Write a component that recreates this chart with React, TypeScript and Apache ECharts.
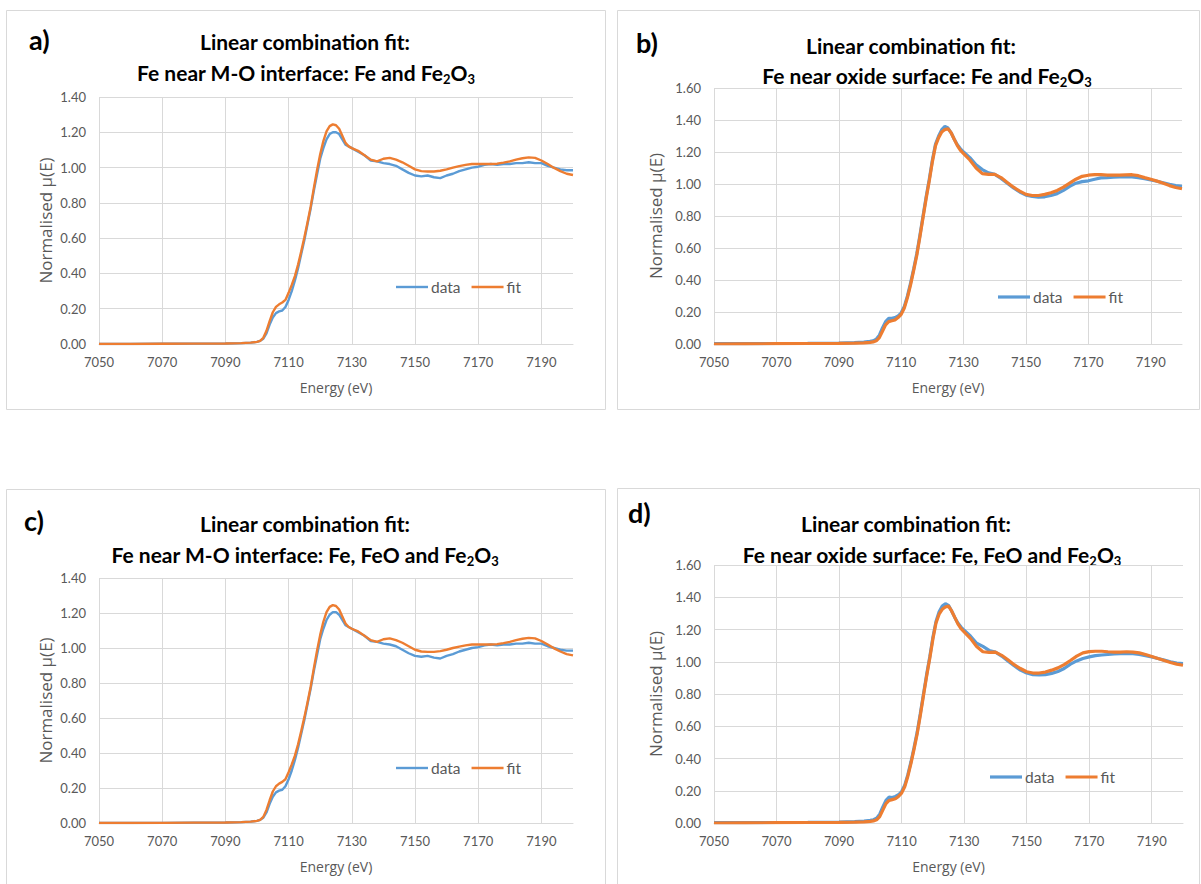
import React, { useEffect, useRef } from "react";
import * as echarts from "echarts";

const FONT = "Lato, 'Open Sans', sans-serif";

const energy = [
  7050, 7060, 7070, 7080, 7090, 7095, 7098,
  7100, 7101, 7102, 7103, 7104, 7105, 7106, 7107, 7108, 7109, 7110, 7111, 7112, 7113, 7114, 7115, 7116, 7117, 7118, 7119, 7120, 7121, 7122, 7123, 7124, 7125, 7126, 7127, 7128, 7129, 7130,
  7132, 7134, 7136, 7138, 7140, 7142, 7144, 7146, 7148, 7150, 7152, 7154, 7156, 7158, 7160, 7162, 7164, 7166, 7168, 7170, 7172, 7174, 7176, 7178, 7180, 7182, 7184, 7186, 7188, 7190, 7192, 7194, 7196, 7198, 7200,
];

const xTicks = { min: 7050, max: 7200, step: 20 };

const dataA = [
  0.000, 0.000, 0.001, 0.002, 0.003, 0.005, 0.008,
  0.012, 0.018, 0.030, 0.060, 0.110, 0.150, 0.175, 0.185, 0.190, 0.210, 0.250, 0.300, 0.360, 0.430, 0.510, 0.590, 0.680, 0.770, 0.870, 0.960, 1.050, 1.110, 1.160, 1.190, 1.200, 1.200, 1.190, 1.160, 1.130, 1.120, 1.110,
  1.090, 1.070, 1.040, 1.035, 1.025, 1.020, 1.010, 0.990, 0.970, 0.955, 0.950, 0.955, 0.945, 0.940, 0.955, 0.965, 0.980, 0.990, 1.000, 1.005, 1.015, 1.020, 1.015, 1.020, 1.020, 1.025, 1.025, 1.030, 1.025, 1.025, 1.010, 1.000, 0.990, 0.985, 0.985,
];
const fitA = [
  0.000, 0.000, 0.001, 0.002, 0.003, 0.005, 0.008,
  0.012, 0.018, 0.035, 0.075, 0.130, 0.180, 0.210, 0.225, 0.235, 0.250, 0.290, 0.335, 0.385, 0.450, 0.525, 0.605, 0.690, 0.780, 0.885, 0.985, 1.075, 1.150, 1.205, 1.235, 1.245, 1.240, 1.220, 1.180, 1.140, 1.120, 1.110,
  1.095, 1.070, 1.045, 1.035, 1.050, 1.055, 1.045, 1.030, 1.010, 0.990, 0.980, 0.978, 0.978, 0.982, 0.990, 1.000, 1.008, 1.015, 1.020, 1.020, 1.020, 1.020, 1.022, 1.028, 1.035, 1.045, 1.053, 1.058, 1.055, 1.040, 1.020, 0.998, 0.980, 0.965, 0.958,
];

const dataB = [
  0.002, 0.002, 0.003, 0.004, 0.006, 0.008, 0.012,
  0.016, 0.020, 0.030, 0.055, 0.100, 0.140, 0.160, 0.160, 0.165, 0.175, 0.195, 0.235, 0.300, 0.380, 0.470, 0.565, 0.680, 0.800, 0.920, 1.030, 1.150, 1.250, 1.300, 1.340, 1.360, 1.350, 1.320, 1.280, 1.245, 1.220, 1.200,
  1.165, 1.120, 1.090, 1.070, 1.060, 1.035, 1.005, 0.975, 0.950, 0.930, 0.922, 0.918, 0.920, 0.928, 0.940, 0.960, 0.985, 1.005, 1.015, 1.020, 1.030, 1.038, 1.040, 1.043, 1.045, 1.045, 1.045, 1.040, 1.033, 1.025, 1.017, 1.008, 0.998, 0.990, 0.985,
];
const fitB = [
  0.000, 0.001, 0.002, 0.003, 0.004, 0.005, 0.007,
  0.010, 0.013, 0.020, 0.040, 0.080, 0.120, 0.140, 0.145, 0.150, 0.165, 0.185, 0.225, 0.290, 0.370, 0.460, 0.555, 0.670, 0.790, 0.910, 1.020, 1.140, 1.240, 1.290, 1.325, 1.340, 1.345, 1.320, 1.280, 1.240, 1.210, 1.190,
  1.150, 1.100, 1.065, 1.060, 1.060, 1.040, 1.010, 0.980, 0.955, 0.935, 0.928, 0.928, 0.935, 0.945, 0.960, 0.980, 1.005, 1.030, 1.048, 1.055, 1.058, 1.058, 1.055, 1.055, 1.055, 1.057, 1.058, 1.052, 1.040, 1.030, 1.018, 1.005, 0.990, 0.978, 0.970,
];

const dataC = [
  0.000, 0.000, 0.001, 0.002, 0.003, 0.005, 0.008,
  0.012, 0.018, 0.030, 0.060, 0.110, 0.150, 0.175, 0.185, 0.190, 0.210, 0.250, 0.300, 0.360, 0.430, 0.510, 0.590, 0.680, 0.770, 0.870, 0.960, 1.050, 1.110, 1.160, 1.190, 1.205, 1.205, 1.190, 1.160, 1.130, 1.120, 1.110,
  1.090, 1.070, 1.040, 1.035, 1.025, 1.020, 1.010, 0.990, 0.970, 0.955, 0.950, 0.955, 0.945, 0.940, 0.955, 0.965, 0.980, 0.990, 1.000, 1.005, 1.015, 1.020, 1.015, 1.020, 1.020, 1.025, 1.025, 1.030, 1.025, 1.025, 1.010, 1.000, 0.990, 0.985, 0.985,
];
const fitC = [
  0.000, 0.000, 0.001, 0.002, 0.003, 0.005, 0.008,
  0.012, 0.018, 0.035, 0.075, 0.130, 0.180, 0.210, 0.225, 0.235, 0.250, 0.290, 0.335, 0.385, 0.450, 0.525, 0.605, 0.690, 0.780, 0.885, 0.985, 1.075, 1.150, 1.205, 1.235, 1.245, 1.240, 1.220, 1.180, 1.140, 1.120, 1.110,
  1.095, 1.070, 1.045, 1.035, 1.050, 1.055, 1.045, 1.030, 1.010, 0.990, 0.980, 0.978, 0.978, 0.982, 0.990, 1.000, 1.008, 1.015, 1.020, 1.020, 1.020, 1.020, 1.022, 1.028, 1.035, 1.045, 1.053, 1.058, 1.055, 1.040, 1.020, 0.998, 0.980, 0.965, 0.958,
];

const dataD = [
  0.002, 0.002, 0.003, 0.004, 0.006, 0.008, 0.012,
  0.016, 0.020, 0.030, 0.055, 0.100, 0.140, 0.160, 0.158, 0.165, 0.175, 0.195, 0.235, 0.300, 0.380, 0.470, 0.565, 0.680, 0.800, 0.920, 1.030, 1.150, 1.250, 1.310, 1.345, 1.360, 1.350, 1.315, 1.275, 1.240, 1.215, 1.195,
  1.160, 1.115, 1.095, 1.070, 1.060, 1.035, 1.005, 0.975, 0.948, 0.930, 0.920, 0.918, 0.920, 0.928, 0.940, 0.958, 0.985, 1.005, 1.020, 1.030, 1.038, 1.042, 1.045, 1.048, 1.050, 1.050, 1.050, 1.045, 1.038, 1.030, 1.020, 1.010, 1.000, 0.992, 0.988,
];
const fitD = [
  0.000, 0.001, 0.002, 0.003, 0.004, 0.005, 0.007,
  0.010, 0.013, 0.020, 0.040, 0.080, 0.120, 0.140, 0.145, 0.150, 0.165, 0.185, 0.225, 0.290, 0.370, 0.460, 0.555, 0.670, 0.790, 0.910, 1.020, 1.140, 1.240, 1.295, 1.325, 1.340, 1.345, 1.315, 1.275, 1.235, 1.205, 1.185,
  1.145, 1.095, 1.062, 1.058, 1.060, 1.040, 1.012, 0.982, 0.958, 0.938, 0.930, 0.930, 0.936, 0.948, 0.962, 0.982, 1.008, 1.035, 1.055, 1.063, 1.065, 1.065, 1.062, 1.060, 1.060, 1.062, 1.060, 1.055, 1.045, 1.033, 1.020, 1.008, 0.995, 0.985, 0.978,
];

const seriesNames = ["data", "fit"];
const panelLetters = ["a)", "b)", "c)", "d)"];
const titleLine1 = "Linear combination fit:";
const titleLine2 = [
  "Fe near M-O interface: Fe and Fe",
  "Fe near oxide surface: Fe and Fe",
  "Fe near M-O interface: Fe, FeO and Fe",
  "Fe near oxide surface: Fe, FeO and Fe",
];
const yMaxes = [1.4, 1.6, 1.4, 1.6];
const yAxisName = "Normalised \u00b5(E)";
const xAxisName = "Energy (eV)";

const BLUE = "#5B9BD5";
const ORANGE = "#ED7D31";
const GRID = "#D9D9D9";
const LABEL = "#595959";
const NAME_FONT = "'Open Sans', Lato, sans-serif";

const layout = [
  { grid: { left: 99, top: 97, width: 474, height: 247 }, lw: 2.4, legend: { left: 396, top: 279 }, frame: [6, 10, 599, 399], letter: [29, 39], t1: [305, 41], t2: [306, 70], yGap: 45 },
  { grid: { left: 714, top: 88, width: 468, height: 256 }, lw: 3.2, legend: { left: 998, top: 289 }, frame: [617, 10, 582, 399], letter: [636, 42], t1: [911, 45], t2: [927, 73], yGap: 50 },
  { grid: { left: 99, top: 578, width: 474, height: 245 }, lw: 2.4, legend: { left: 396, top: 760 }, frame: [6, 489, 599, 420], letter: [24, 520], t1: [305, 523], t2: [305, 552], yGap: 45 },
  { grid: { left: 714, top: 565, width: 469, height: 258 }, lw: 3.2, legend: { left: 990, top: 769 }, frame: [617, 488, 582, 420], letter: [628, 512], t1: [906, 523], t2: [932, 552], yGap: 50 },
];

const panelSeries = [
  [dataA, fitA],
  [dataB, fitB],
  [dataC, fitC],
  [dataD, fitD],
];

function buildOption() {
  const grid = layout.map((l) => ({ ...l.grid }));
  const xAxis = layout.map((l, i) => ({
    type: "value",
    gridIndex: i,
    min: xTicks.min,
    max: xTicks.max,
    interval: xTicks.step,
    name: xAxisName,
    nameLocation: "middle",
    nameGap: 36,
    nameTextStyle: { color: LABEL, fontSize: 14, fontFamily: NAME_FONT },
    axisLine: { show: true, lineStyle: { color: GRID, width: 1 } },
    axisTick: { show: false },
    axisLabel: { color: LABEL, fontSize: 13, fontFamily: FONT, margin: 11, showMaxLabel: false, formatter: (v: number) => String(v) },
    splitLine: { show: true, showMaxLine: false, lineStyle: { color: GRID, width: 1 } },
  }));
  const yAxis = layout.map((l, i) => ({
    type: "value",
    gridIndex: i,
    min: 0,
    max: yMaxes[i],
    interval: 0.2,
    name: yAxisName,
    nameLocation: "middle",
    nameGap: l.yGap,
    nameTextStyle: { color: LABEL, fontSize: 17, fontFamily: NAME_FONT },
    axisLine: { show: false },
    axisTick: { show: false },
    axisLabel: { color: LABEL, fontSize: 13, fontFamily: FONT, margin: 13, formatter: (v: number) => v.toFixed(2) },
    splitLine: { show: true, lineStyle: { color: GRID, width: 1 } },
  }));
  const series: any[] = [];
  panelSeries.forEach((pair, i) => {
    pair.forEach((vals, k) => {
      const color = k === 0 ? BLUE : ORANGE;
      series.push({
        type: "line",
        name: seriesNames[k],
        xAxisIndex: i,
        yAxisIndex: i,
        data: energy.map((e, j) => [e, vals[j]]),
        showSymbol: false,
        symbol: "none",
        color,
        itemStyle: { color },
        lineStyle: { color, width: layout[i].lw },
        z: 2 + k,
      });
    });
  });
  const legend = layout.map((l) => ({
    data: seriesNames,
    left: l.legend.left,
    top: l.legend.top,
    icon: "rect",
    itemWidth: 32,
    itemHeight: l.lw,
    itemGap: 11,
    padding: 0,
    selectedMode: false,
    textStyle: { color: LABEL, fontSize: 15.5, fontFamily: FONT, padding: [0, 0, 0, -2] },
  }));
  const graphic: any[] = [];
  layout.forEach((l, i) => {
    const [fx, fy, fw, fh] = l.frame;
    graphic.push({
      type: "rect",
      shape: { x: fx + 0.5, y: fy + 0.5, width: fw, height: fh },
      style: { fill: "none", stroke: GRID, lineWidth: 1 },
      silent: true,
      z: -10,
    });
    graphic.push({
      type: "text",
      x: l.letter[0],
      y: l.letter[1],
      style: { text: panelLetters[i], font: `bold 27px ${FONT}`, fill: "#000", verticalAlign: "middle", align: "left" },
    });
    graphic.push({
      type: "text",
      x: l.t1[0],
      y: l.t1[1],
      style: { text: titleLine1, font: `bold 21px ${FONT}`, fill: "#000", align: "center", verticalAlign: "middle" },
    });
    graphic.push({
      type: "text",
      x: l.t2[0],
      y: l.t2[1] + 2,
      style: {
        text: `{b|${titleLine2[i]}}{s|2}{b|O}{s|3}`,
        align: "center",
        verticalAlign: "middle",
        rich: {
          b: { fontSize: 21, fontWeight: "bold", fontFamily: FONT, fill: "#000", lineHeight: 26 },
          s: { fontSize: 13, fontWeight: "bold", fontFamily: FONT, fill: "#000", lineHeight: 12, verticalAlign: "bottom" },
        },
      },
    });
  });
  return {
    animation: false,
    backgroundColor: "#ffffff",
    textStyle: { fontFamily: FONT },
    grid,
    xAxis,
    yAxis,
    series,
    legend,
    graphic,
  };
}

export default function App() {
  const ref = useRef<HTMLDivElement>(null);
  useEffect(() => {
    if (!ref.current) return;
    const chart = echarts.init(ref.current, undefined, { renderer: "svg" });
    chart.setOption(buildOption() as any);
    return () => chart.dispose();
  }, []);
  return (
    <div
      ref={ref}
      style={{ position: "fixed", left: 0, top: 0, width: 1201, height: 884, background: "#fff" }}
    />
  );
}
